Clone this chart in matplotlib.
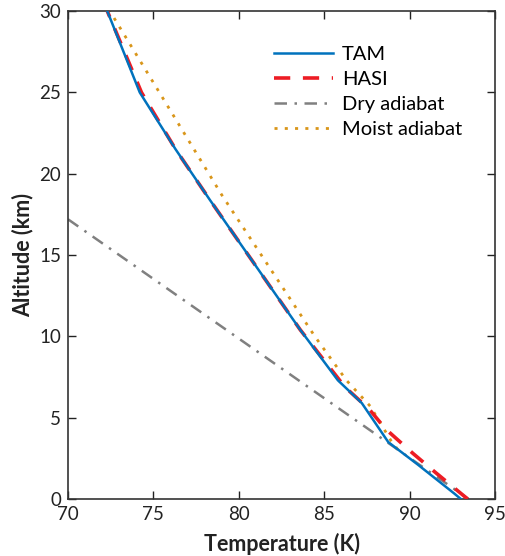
import matplotlib.pyplot as plt

plt.rcParams['font.family'] = ['Lato', 'DejaVu Sans']

# TAM profile
tam_alt = [0, 0.35, 2.1, 3.5, 5.9, 7.3, 10.4, 18.4, 21.5, 25, 30]
tam_T = [93.0, 92.6, 90.5, 88.75, 87.2, 85.8, 83.6, 78.3, 76.3, 74.2, 72.3]

# HASI profile
hasi_alt = [0, 1.6, 2.8, 4.3, 5.5, 6.9, 10.4, 18.4, 21.5, 25, 30]
hasi_T = [93.4, 91.55, 90.2, 88.6, 87.65, 86.2, 83.6, 78.3, 76.3, 74.3, 72.3]

# adiabats
dry_alt = [17.2, 0]
dry_T = [70, 93.45]
moist_alt = [3.05, 3.6, 5.7, 7.3, 10, 18.7, 30]
moist_T = [89.3, 88.9, 87.7, 86.3, 84.45, 79.0, 72.45]

fig = plt.figure(figsize=(5.05, 5.56), dpi=100)
ax = fig.add_axes([0.1347, 0.1025, 0.8455, 0.8775])

ax.plot(tam_T, tam_alt, color='#0072BD', lw=1.8, label='TAM', zorder=4)
ax.plot(hasi_T, hasi_alt, color='#ED1C24', lw=2.6, dashes=(4.5, 3.5), label='HASI', zorder=3)
ax.plot(dry_T, dry_alt, color='#808080', lw=1.8, dashes=(5, 3, 1, 3), label='Dry adiabat', zorder=2)
ax.plot(moist_T, moist_alt, color='#D9961A', lw=2.0, dashes=(1.1, 2.6), label='Moist adiabat', zorder=2)

ax.set_xlim(70, 95)
ax.set_ylim(0, 30)
ax.set_xticks([70, 75, 80, 85, 90, 95])
ax.set_yticks([0, 5, 10, 15, 20, 25, 30])
ax.tick_params(direction='in', length=6, width=1, top=True, right=True,
               labelsize=13.5, colors='#222222')
ax.tick_params(axis='x', pad=5)
ax.tick_params(axis='y', pad=5)
for s in ax.spines.values():
    s.set_color('#333333')
    s.set_linewidth(1.2)

ax.set_xlabel('Temperature (K)', fontsize=15.5, fontweight='bold', color='#222222', labelpad=7)
ax.set_ylabel('Altitude (km)', fontsize=15.5, fontweight='bold', color='#222222', labelpad=4)

ax.legend(loc='upper right', bbox_to_anchor=(0.965, 0.965), frameon=False, fontsize=14.5,
          handlelength=2.9, handletextpad=0.45, labelspacing=0.38)

fig.savefig('out.png', dpi=100)
